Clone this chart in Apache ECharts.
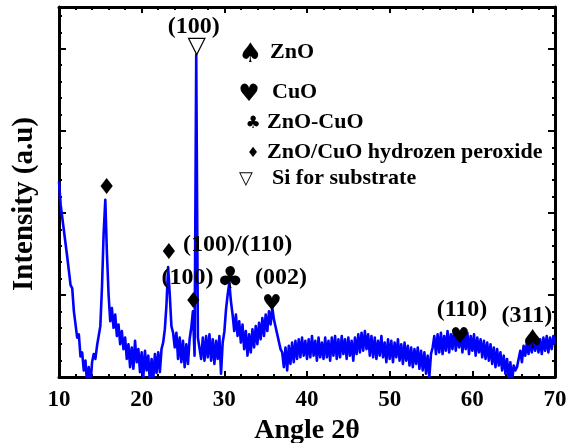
<!DOCTYPE html>
<html><head><meta charset="utf-8">
<script src="https://cdn.jsdelivr.net/npm/echarts@6/dist/echarts.min.js"></script>
<style>html,body{margin:0;padding:0;background:#fff}#c{width:568px;height:443px}</style>
</head><body><div id="c"></div>
<script>
// ---- data ----
const angles = [
10,10.2,10.4,10.6,10.8,11,11.2,11.4,11.6,11.8,
12,12.2,12.4,12.6,12.8,13,13.2,13.4,13.6,13.8,
14,14.2,14.4,14.6,14.8,15,15.2,15.4,15.6,15.8,
16,16.2,16.4,16.6,16.8,17,17.2,17.4,17.6,17.8,
18,18.2,18.4,18.6,18.8,19,19.2,19.4,19.6,19.8,
20,20.2,20.4,20.6,20.8,21,21.2,21.4,21.6,21.8,
22,22.2,22.4,22.6,22.8,23,23.2,23.4,23.6,23.8,
24,24.2,24.4,24.6,24.8,25,25.2,25.4,25.6,25.8,
26,26.2,26.4,26.6,26.8,27,27.2,27.4,27.6,27.8,
28,28.2,28.4,28.6,28.8,29,29.2,29.4,29.6,29.8,
30,30.2,30.4,30.6,30.8,31,31.2,31.4,31.6,31.8,
32,32.2,32.4,32.6,32.8,33,33.2,33.4,33.6,33.8,
34,34.2,34.4,34.6,34.8,35,35.2,35.4,35.6,35.8,
36,36.2,36.4,36.6,36.8,37,37.2,37.4,37.6,37.8,
38,38.2,38.4,38.6,38.8,39,39.2,39.4,39.6,39.8,
40,40.2,40.4,40.6,40.8,41,41.2,41.4,41.6,41.8,
42,42.2,42.4,42.6,42.8,43,43.2,43.4,43.6,43.8,
44,44.2,44.4,44.6,44.8,45,45.2,45.4,45.6,45.8,
46,46.2,46.4,46.6,46.8,47,47.2,47.4,47.6,47.8,
48,48.2,48.4,48.6,48.8,49,49.2,49.4,49.6,49.8,
50,50.2,50.4,50.6,50.8,51,51.2,51.4,51.6,51.8,
52,52.2,52.4,52.6,52.8,53,53.2,53.4,53.6,53.8,
54,54.2,54.4,54.6,54.8,55,55.2,55.4,55.6,55.8,
56,56.2,56.4,56.6,56.8,57,57.2,57.4,57.6,57.8,
58,58.2,58.4,58.6,58.8,59,59.2,59.4,59.6,59.8,
60,60.2,60.4,60.6,60.8,61,61.2,61.4,61.6,61.8,
62,62.2,62.4,62.6,62.8,63,63.2,63.4,63.6,63.8,
64,64.2,64.4,64.6,64.8,65,65.2,65.4,65.6,65.8,
66,66.2,66.4,66.6,66.8,67,67.2,67.4,67.6,67.8,
68,68.2,68.4,68.6,68.8,69,69.2,69.4,69.6,69.8,
70];
const intensity = [
238,210,212,178,176,146,145,112,108,80,
78,48,52,25,30,8,20,-8,12,-10,
18,28,22,38,36,62,110,175,216,150,
100,68,84,60,76,50,64,40,56,34,
48,22,40,12,36,10,44,18,34,6,
30,0,32,8,26,-8,22,-4,28,5,
30,6,34,42,58,88,134,100,62,54,
36,54,22,48,18,44,12,40,16,46,
60,80,26,393,48,50,22,48,20,50,
24,52,20,46,16,44,22,50,4,42,
55,82,100,115,92,76,56,76,50,68,
42,64,34,56,26,52,30,58,36,62,
40,66,46,72,50,76,56,80,64,85,
70,70,52,50,34,30,12,36,8,38,
16,42,18,44,22,46,24,48,26,44,
22,46,24,50,26,44,20,48,24,42,
22,48,24,44,20,48,26,50,22,46,
24,50,28,46,22,48,26,44,20,48,
28,52,30,54,32,56,34,52,26,50,
24,48,22,44,26,50,24,42,18,46,
22,44,18,42,24,46,20,40,16,42,
20,38,14,36,12,34,16,36,10,32,
8,30,4,26,0,28,36,50,28,52,
30,54,28,50,32,56,30,52,34,58,
32,54,36,56,30,52,34,54,28,50,
32,52,26,48,30,46,24,44,22,42,
20,40,16,36,12,34,14,30,8,26,
4,22,-2,18,-6,14,8,12,14,32,
18,38,26,42,28,44,30,46,32,48,
30,46,28,48,32,50,30,48,34,50,
40];
const xTickLabels = [10, 20, 30, 40, 50, 60, 70];
const yRange = [0, 451];

// peak markers (symbol placed above peaks)
const markAngles  = [15.77, 23.3, 26.25, 30.7, 35.75, 58.5, 67.3, 26.65];
const markValues  = [234, 155, 95, 127, 96, 56, 48, 405];
const markSymbols = ['♦', '♦', '♦', '♣', '♥', '♥', '♠', '▽'];

// Miller index labels
const hklAngles = [26.3, 31.6, 25.55, 36.85, 58.75, 66.6];
const hklValues = [427, 161, 121, 121, 82, 74];
const hklTexts  = ['(100)', '(100)/(110)', '(100)', '(002)', '(110)', '(311)'];

// phase key
const keySymbols = ['♠', '♥', '♣', '♦', '▽'];
const keyTexts = ['ZnO', 'CuO', 'ZnO-CuO', 'ZnO/CuO hydrozen peroxide', 'Si for substrate'];

// ---- styling ----
const SERIF = '"Liberation Serif", "Times New Roman", serif';
const SYM = '"DejaVu Sans", sans-serif';
const symSize = {'♦': 22, '♣': 30, '♥': 22, '♠': 26, '▽': 24};
const symShift = {'♦': 3, '♣': 7, '♥': 6, '♠': 4, '▽': 2};
const keySymSize = {'♠': 27, '♥': 24, '♣': 17, '♦': 14, '▽': 18};
const keySymPos = [[250, 55], [249, 95], [253, 124], [253, 153], [246, 179]];
const keyTextPos = [[270, 52], [272, 92], [267, 122], [267, 152], [272, 178]];

const chart = echarts.init(document.getElementById('c'), null, {renderer: 'canvas'});

const lineData = angles.map((a, i) => [a, intensity[i]]);
const markData = markAngles.map((a, i) => ({
  value: [a, markValues[i]], name: markSymbols[i],
  label: {fontSize: symSize[markSymbols[i]], offset: [0, symShift[markSymbols[i]]]}
}));
const hklData = hklAngles.map((a, i) => ({value: [a, hklValues[i]], name: hklTexts[i]}));

const axisLine = {show: true, onZero: false, lineStyle: {color: '#000', width: 3}};
const tickX = {show: true, inside: true, length: 6, lineStyle: {color: '#000', width: 2}};
const minorX = {show: true, splitNumber: 5, length: 3, lineStyle: {color: '#000', width: 2}};
const step = xTickLabels[1] - xTickLabels[0];

const graphics = [];
keySymbols.forEach((s, i) => {
  graphics.push({type: 'text', x: keySymPos[i][0], y: keySymPos[i][1],
    style: {text: s, font: keySymSize[s] + 'px ' + SYM, fill: '#000', align: 'center', verticalAlign: 'middle'}});
  graphics.push({type: 'text', x: keyTextPos[i][0], y: keyTextPos[i][1],
    style: {text: keyTexts[i], font: 'bold 22px ' + SERIF, fill: '#000', align: 'left', verticalAlign: 'middle'}});
});

chart.setOption({
  animation: false,
  backgroundColor: '#fff',
  grid: {left: 59, right: 13, top: 7, bottom: 66, containLabel: false, outerBoundsMode: 'none'},
  xAxis: [{
    type: 'value', position: 'bottom',
    min: xTickLabels[0], max: xTickLabels[xTickLabels.length - 1], interval: step,
    axisLine, axisTick: tickX, minorTick: minorX, splitLine: {show: false},
    axisLabel: {color: '#000', fontFamily: SERIF, fontWeight: 'bold', fontSize: 23, margin: 12},
    name: 'Angle 2θ', nameLocation: 'middle', nameGap: 36,
    nameTextStyle: {color: '#000', fontFamily: SERIF, fontWeight: 'bold', fontSize: 28}
  }, {
    type: 'value', position: 'top',
    min: xTickLabels[0], max: xTickLabels[xTickLabels.length - 1], interval: step,
    axisLine, axisTick: tickX, minorTick: minorX, splitLine: {show: false},
    axisLabel: {show: false}
  }],
  yAxis: [{
    type: 'value', position: 'left', min: yRange[0], max: yRange[1], interval: 100,
    axisLine, axisTick: {show: true, inside: true, length: 7, lineStyle: {color: '#000', width: 2}},
    minorTick: {show: true, splitNumber: 5, length: 3, lineStyle: {color: '#000', width: 2}},
    splitLine: {show: false}, axisLabel: {show: false},
    name: 'Intensity (a.u)', nameLocation: 'middle', nameGap: 20, nameRotate: 90,
    nameTextStyle: {color: '#000', fontFamily: SERIF, fontWeight: 'bold', fontSize: 29, padding: [0, 24, 0, 0]}
  }, {
    type: 'value', position: 'right', min: yRange[0], max: yRange[1], interval: 100,
    axisLine, axisTick: {show: true, inside: true, length: 7, lineStyle: {color: '#000', width: 2}},
    minorTick: {show: true, splitNumber: 5, length: 3, lineStyle: {color: '#000', width: 2}},
    splitLine: {show: false}, axisLabel: {show: false}
  }],
  series: [{
    type: 'line', data: lineData, xAxisIndex: 0, yAxisIndex: 0,
    showSymbol: false, symbol: 'none', clip: true,
    lineStyle: {color: '#0000ff', width: 2.6, join: 'round'}, z: 2
  }, {
    type: 'scatter', data: markData, symbolSize: 0, silent: true, z: 5,
    itemStyle: {opacity: 1},
    label: {show: true, position: 'inside', formatter: p => p.name, color: '#000',
      textBorderWidth: 0, textBorderColor: 'transparent',
      fontFamily: SYM, align: 'center', verticalAlign: 'middle'}
  }, {
    type: 'scatter', data: hklData, symbolSize: 0, silent: true, z: 5,
    itemStyle: {opacity: 1},
    label: {show: true, position: 'inside', formatter: p => p.name, color: '#000',
      textBorderWidth: 0, textBorderColor: 'transparent',
      fontFamily: SERIF, fontWeight: 'bold', fontSize: 24, align: 'center', verticalAlign: 'middle'}
  }],
  graphic: graphics
});
</script>
</body></html>
